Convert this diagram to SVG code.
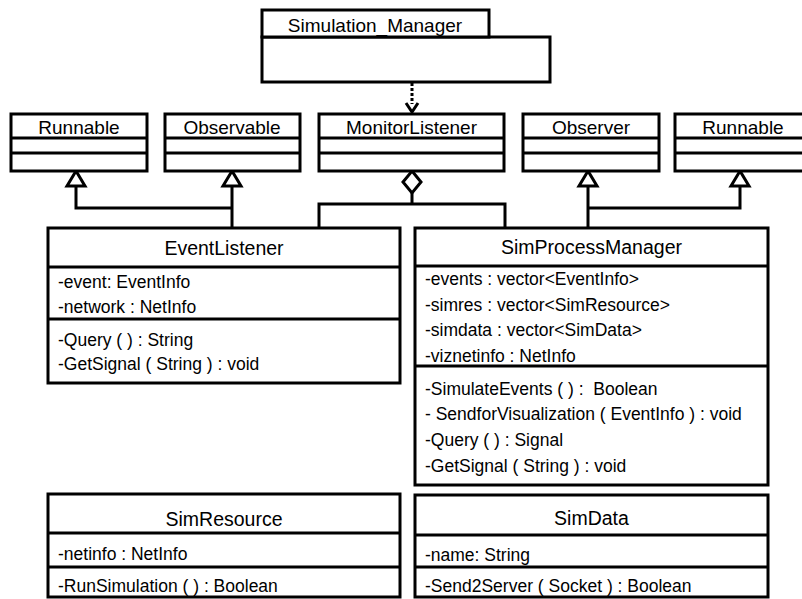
<svg xmlns="http://www.w3.org/2000/svg" width="802" height="599" viewBox="0 0 802 599">
<style>
.box{fill:#fff;stroke:#000;stroke-width:3}
.div{stroke:#000;stroke-width:3}
.ln{fill:none;stroke:#000;stroke-width:3}
.nm{font-family:"Liberation Sans",Arial,sans-serif;font-size:19.5px;fill:#000;text-anchor:middle}
.tn{font-family:"Liberation Sans",Arial,sans-serif;font-size:19px;fill:#000;text-anchor:middle}
.at{font-family:"Liberation Sans",Arial,sans-serif;font-size:17.5px;fill:#000;white-space:pre}
.tri{fill:#fff;stroke:#000;stroke-width:3;stroke-linejoin:miter}
</style>
<rect width="802" height="599" fill="#fff"/>
<g id="connectors">
  <path class="ln" d="M412,83 V104" stroke-dasharray="3,2"/>
  <polyline class="ln" points="406,103 412,112 418,103"/>
  <path class="ln" d="M76,186 V208 H233 M232,186 V228"/>
  <path class="ln" d="M588,186 V228 M588,208 H740 V186"/>
  <path class="ln" d="M412,193 V204 M319,228 V204 H505 V228"/>
  <polygon class="tri" points="76,171 67,186 85,186"/>
  <polygon class="tri" points="232,171 223,186 241,186"/>
  <polygon class="tri" points="588,171 579,186 597,186"/>
  <polygon class="tri" points="740,171 731,186 749,186"/>
  <polygon class="tri" points="412,171 421,182 412,193 403,182"/>
</g>
<g id="Simulation_Manager">
  <rect class="box" x="262" y="37" width="288" height="45"/>
  <rect class="box" x="262" y="10" width="227" height="27"/>
  <text class="tn" x="375" y="32">Simulation_Manager</text>
</g>
<g id="Runnable1">
  <rect class="box" x="11" y="114" width="136" height="57"/>
  <line class="div" x1="11" y1="138" x2="147" y2="138"/>
  <line class="div" x1="11" y1="153" x2="147" y2="153"/>
  <text class="tn" x="79" y="134">Runnable</text>
</g>
<g id="Observable">
  <rect class="box" x="165" y="114" width="135" height="57"/>
  <line class="div" x1="165" y1="138" x2="300" y2="138"/>
  <line class="div" x1="165" y1="153" x2="300" y2="153"/>
  <text class="tn" x="232" y="134">Observable</text>
</g>
<g id="MonitorListener">
  <rect class="box" x="319" y="114" width="185" height="57"/>
  <line class="div" x1="319" y1="138" x2="504" y2="138"/>
  <line class="div" x1="319" y1="153" x2="504" y2="153"/>
  <text class="tn" x="411.5" y="134">MonitorListener</text>
</g>
<g id="Observer">
  <rect class="box" x="523" y="114" width="136" height="57"/>
  <line class="div" x1="523" y1="138" x2="659" y2="138"/>
  <line class="div" x1="523" y1="153" x2="659" y2="153"/>
  <text class="tn" x="591" y="134">Observer</text>
</g>
<g id="Runnable2">
  <rect class="box" x="675" y="114" width="136" height="57"/>
  <line class="div" x1="675" y1="138" x2="811" y2="138"/>
  <line class="div" x1="675" y1="153" x2="811" y2="153"/>
  <text class="tn" x="743" y="134">Runnable</text>
</g>
<g id="EventListener">
  <rect class="box" x="48" y="228" width="352" height="155"/>
  <line class="div" x1="48" y1="267" x2="400" y2="267"/>
  <line class="div" x1="48" y1="319" x2="400" y2="319"/>
  <text class="nm" x="224" y="255">EventListener</text>
  <text class="at" x="58" y="288">-event: EventInfo</text>
  <text class="at" x="58" y="313">-network : NetInfo</text>
  <text class="at" x="58" y="346">-Query ( ) : String</text>
  <text class="at" x="58" y="370">-GetSignal ( String ) : void</text>
</g>
<g id="SimProcessManager">
  <rect class="box" x="415" y="228" width="353" height="257"/>
  <line class="div" x1="415" y1="266" x2="768" y2="266"/>
  <line class="div" x1="415" y1="366" x2="768" y2="366"/>
  <text class="nm" x="591.5" y="254">SimProcessManager</text>
  <text class="at" x="425" y="285">-events : vector&lt;EventInfo&gt;</text>
  <text class="at" x="425" y="311">-simres : vector&lt;SimResource&gt;</text>
  <text class="at" x="425" y="336">-simdata : vector&lt;SimData&gt;</text>
  <text class="at" x="425" y="362">-viznetinfo : NetInfo</text>
  <text class="at" x="425" y="395" xml:space="preserve">-SimulateEvents ( ) :  Boolean</text>
  <text class="at" x="425" y="420">- SendforVisualization ( EventInfo ) : void</text>
  <text class="at" x="425" y="446">-Query ( ) : Signal</text>
  <text class="at" x="425" y="472">-GetSignal ( String ) : void</text>
</g>
<g id="SimResource">
  <rect class="box" x="48" y="494" width="352" height="103"/>
  <line class="div" x1="48" y1="533" x2="400" y2="533"/>
  <line class="div" x1="48" y1="567" x2="400" y2="567"/>
  <text class="nm" x="224" y="526">SimResource</text>
  <text class="at" x="58" y="560">-netinfo : NetInfo</text>
  <text class="at" x="58" y="592">-RunSimulation ( ) : Boolean</text>
</g>
<g id="SimData">
  <rect class="box" x="415" y="495" width="353" height="102"/>
  <line class="div" x1="415" y1="535" x2="768" y2="535"/>
  <line class="div" x1="415" y1="567" x2="768" y2="567"/>
  <text class="nm" x="591.5" y="525">SimData</text>
  <text class="at" x="425" y="561">-name: String</text>
  <text class="at" x="425" y="592">-Send2Server ( Socket ) : Boolean</text>
</g>
</svg>
